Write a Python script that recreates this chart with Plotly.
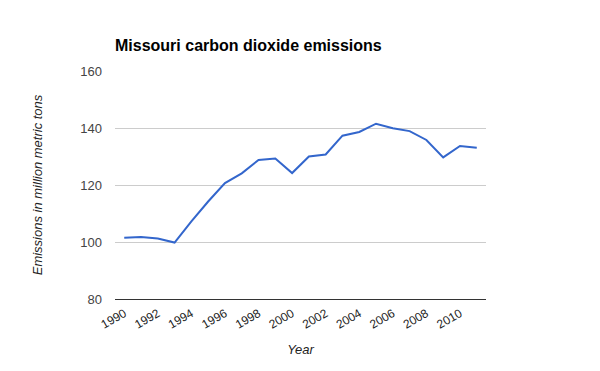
import plotly.graph_objects as go

years = list(range(1990, 2012))
emissions = [101.5, 101.75, 101.2, 99.8, 107.2, 114.2, 120.7, 124.1, 128.8, 129.3, 124.2,
             130.0, 130.7, 137.3, 138.6, 141.5, 139.9, 138.9, 135.8, 129.7, 133.7, 133.1]
x_ticks = list(range(1990, 2011, 2))
y_ticks = [80, 100, 120, 140, 160]

fig = go.Figure()
fig.add_trace(go.Scatter(x=years, y=emissions, mode="lines",
                         line=dict(color="#3366cc", width=2), hoverinfo="x+y"))

font = "Liberation Sans, Arial, sans-serif"
fig.update_layout(
    width=600, height=371,
    margin=dict(l=115, r=114, t=71, b=72, autoexpand=False),
    paper_bgcolor="white", plot_bgcolor="white",
    showlegend=False,
    font=dict(family=font, size=13, color="#222222"),
    title=dict(text="<b>Missouri carbon dioxide emissions</b>", x=115/600, xanchor="left",
               y=1-45/371, yanchor="middle", font=dict(size=16, color="#000000")),
    xaxis=dict(range=[1989.45, 2011.55], tickvals=x_ticks, ticktext=[str(v) for v in x_ticks],
               tickangle=-30, showgrid=False, zeroline=False, automargin=False,
               showline=True, linecolor="#333333", linewidth=1, ticklabelstandoff=2,
               tickfont=dict(size=12, color="#222222"),
               title=dict(text="<i>Year</i>", font=dict(size=13, color="#222222"), standoff=14)),
    yaxis=dict(range=[80, 160], tickvals=y_ticks, showgrid=True, gridcolor="#cccccc",
               zeroline=False, showline=False, ticklabelstandoff=12, automargin=False,
               tickfont=dict(size=13, color="#444444"),
               title=dict(text="<i>Emissions in million metric tons</i>",
                          font=dict(size=13, color="#222222"), standoff=34)),
)
fig.write_html("out.html", config={"displayModeBar": False},
               post_script="document.body.style.margin='0';document.body.style.overflow='hidden';")
